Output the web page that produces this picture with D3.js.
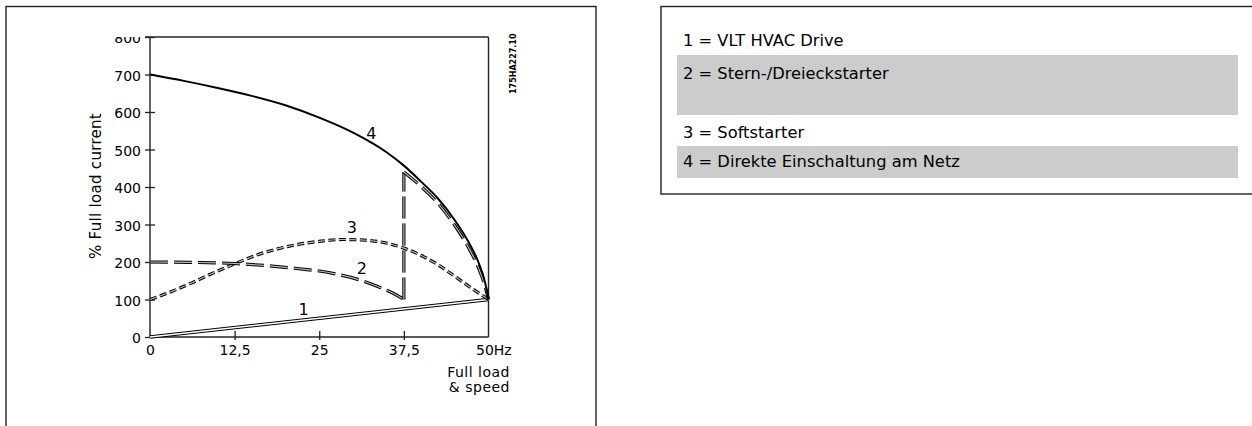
<!DOCTYPE html>
<html>
<head>
<meta charset="utf-8">
<script src="https://cdn.jsdelivr.net/npm/d3@7/dist/d3.min.js"></script>
<style>
  html, body { margin: 0; padding: 0; background: #fff; }
  svg { display: block; }
  text { font-family: "DejaVu Sans", sans-serif; fill: #000; }
</style>
</head>
<body>
<script>
// ---------- data ----------
const xTicks = [0, 12.5, 25, 37.5, 50];
const xTickLabels = ["0", "12,5", "25", "37,5", "50Hz"];
const yTicks = [0, 100, 200, 300, 400, 500, 600, 700, 800];
const yTickLabels = ["0", "100", "200", "300", "400", "500", "600", "700", "800"];

// 1 = VLT HVAC Drive
const driveX = [0, 50];
const driveY = [0, 100];
// 2 = Stern-/Dreieckstarter (star phase, then delta phase after switch-over)
const starX = [0, 6, 12.5, 18, 22, 25, 28, 31, 34, 36, 37.5];
const starY = [200, 199, 196, 189, 182, 176, 166, 152, 132, 116, 100];
const deltaX = [37.5, 40, 42.5, 45, 47, 48.5, 49.5, 50];
const deltaY = [440, 402, 357, 298, 240, 185, 135, 100];
// 3 = Softstarter
const softX = [0, 3, 6, 9, 12.5, 16, 20, 25, 28.5, 32, 35, 37.5, 40, 42.5, 45, 47.5, 50];
const softY = [100, 120, 143, 168, 195, 220, 240, 255, 260, 258, 250, 237, 218, 193, 162, 130, 100];
// 4 = Direkte Einschaltung am Netz
const directX = [0, 5, 10, 15, 20, 25, 30, 35, 37.5, 40, 42.5, 45, 47, 48.5, 49.5, 50];
const directY = [700, 683, 664, 643, 618, 585, 545, 492, 457, 415, 370, 312, 255, 200, 145, 100];

const curveLabels = ["1", "2", "3", "4"];
const curveLabelX = [22.7, 31.3, 29.8, 32.7];
const curveLabelY = [74, 183, 294, 543];

const legendLabels = ["1 = VLT HVAC Drive", "2 = Stern-/Dreieckstarter", "3 = Softstarter", "4 = Direkte Einschaltung am Netz"];
const legendShaded = [false, true, false, true];

const yTitle = "%  Full  load  current";
const xTitle = ["Full load", "& speed"];
const drawingCode = "175HA227.10";

// ---------- layout ----------
const W = 1252, H = 426;
const svg = d3.select("body").append("svg").attr("width", W).attr("height", H);
svg.append("rect").attr("width", W).attr("height", H).attr("fill", "#fff");

// panel frames
svg.append("rect").attr("x", 6).attr("y", 6.5).attr("width", 590).attr("height", 440)
  .attr("fill", "none").attr("stroke", "#222").attr("stroke-width", 1.4);
svg.append("rect").attr("x", 661).attr("y", 6.5).attr("width", 620).attr("height", 187.5)
  .attr("fill", "none").attr("stroke", "#222").attr("stroke-width", 1.4);

const x = d3.scaleLinear().domain([0, 50]).range([150, 488.5]);
const y = d3.scaleLinear().domain([0, 800]).range([337, 37]);

const zip = (xs, ys) => xs.map((v, i) => [v, ys[i]]);

// clip for the axis labels (the "800" is cut by the frame top)
svg.append("defs").append("clipPath").attr("id", "yclip")
  .attr("clipPathUnits", "userSpaceOnUse")
  .append("rect").attr("x", -200).attr("y", 37).attr("width", 400).attr("height", 400);

// y axis ticks (crossing the axis)
const yAxis = svg.append("g").attr("transform", "translate(155,0)")
  .attr("clip-path", "url(#yclip)")
  .call(d3.axisLeft(y).tickValues(yTicks).tickFormat((d, i) => yTickLabels[i])
    .tickSizeInner(10).tickSizeOuter(0).tickPadding(4));
yAxis.select(".domain").remove();
yAxis.selectAll(".tick line").attr("stroke", "#222").attr("stroke-width", 1.3);
yAxis.selectAll(".tick text").attr("font-size", 14).attr("dy", "0.42em")
  .style("font-family", "DejaVu Sans, sans-serif");

// x axis ticks
const xAxis = svg.append("g").attr("transform", "translate(0,331)")
  .call(d3.axisBottom(x).tickValues(xTicks).tickFormat((d, i) => xTickLabels[i])
    .tickSizeInner(9).tickSizeOuter(0).tickPadding(5));
xAxis.select(".domain").remove();
xAxis.selectAll(".tick line").attr("stroke", "#222").attr("stroke-width", 1.3)
  .filter(d => d === 0 || d === 50).remove();
xAxis.selectAll(".tick text").attr("font-size", 14)
  .style("font-family", "DejaVu Sans, sans-serif");
xAxis.selectAll(".tick text").filter(d => d === 50)
  .attr("text-anchor", "start").attr("x", -13);

// plot frame / axes
const frame = svg.append("g").attr("stroke", "#222").attr("stroke-width", 1.4).attr("fill", "none");
frame.append("line").attr("x1", 145).attr("x2", x(50)).attr("y1", y(800)).attr("y2", y(800));
frame.append("line").attr("x1", x(50)).attr("x2", x(50)).attr("y1", y(800)).attr("y2", y(0));
frame.append("line").attr("x1", x(0)).attr("x2", x(0)).attr("y1", y(800)).attr("y2", y(0));
frame.append("line").attr("x1", x(0)).attr("x2", x(50)).attr("y1", y(0)).attr("y2", y(0));

// titles
svg.append("text").attr("transform", "translate(101,186) rotate(-90)")
  .attr("text-anchor", "middle").attr("font-size", 15).attr("letter-spacing", 0.3).text(yTitle);
svg.append("text").attr("x", 510).attr("y", 377).attr("text-anchor", "end")
  .attr("font-size", 14).attr("letter-spacing", 0.5).text(xTitle[0]);
svg.append("text").attr("x", 510).attr("y", 392).attr("text-anchor", "end")
  .attr("font-size", 14).attr("letter-spacing", 0.5).text(xTitle[1]);
svg.append("text").attr("transform", "translate(516,94) rotate(-90)")
  .attr("font-size", 8).attr("font-weight", "bold").text(drawingCode);

// ---------- curves ----------
const line = d3.line().x(d => x(d[0])).y(d => y(d[1])).curve(d3.curveMonotoneX);
const straight = d3.line().x(d => x(d[0])).y(d => y(d[1]));

function hollow(pathD, dash, outer, inner, innerColor) {
  const g = svg.append("g").attr("fill", "none");
  g.append("path").attr("d", pathD).attr("stroke", "#000").attr("stroke-width", outer)
    .attr("stroke-dasharray", dash);
  g.append("path").attr("d", pathD).attr("stroke", innerColor).attr("stroke-width", inner)
    .attr("stroke-dasharray", dash);
}

// 1: double line
hollow(straight(zip(driveX, driveY)), null, 3.4, 1.3, "#fff");

// 3: soft starter, short hollow dashes
hollow(line(zip(softX, softY)), "7,3.5", 3.2, 1.2, "#bbb");

// 2: star-delta, long hollow dashes
const starPts = zip(starX, starY);
const deltaPts = zip(deltaX, deltaY);
hollow(line(starPts), "18,6", 3.2, 1.2, "#bbb");
hollow(straight([starPts[starPts.length - 1], deltaPts[0]]), "22,5", 3.2, 1.2, "#bbb");
hollow(line(deltaPts), "18,6", 3.2, 1.2, "#bbb");

// 4: direct on line, solid
svg.append("path").attr("d", line(zip(directX, directY)))
  .attr("fill", "none").attr("stroke", "#000").attr("stroke-width", 2);

// curve numbers
svg.append("g").selectAll("text").data(curveLabels).join("text")
  .attr("x", (d, i) => x(curveLabelX[i])).attr("y", (d, i) => y(curveLabelY[i]))
  .attr("dy", "0.36em").attr("text-anchor", "middle").attr("font-size", 16).text(d => d);

// ---------- legend ----------
const rowTop = [22, 55, 115, 146];
const rowH = [33, 60, 31, 32];
const rowBase = [46, 79, 138, 167];
const lg = svg.append("g");
lg.selectAll("rect").data(legendLabels).join("rect")
  .attr("x", 677).attr("width", 561)
  .attr("y", (d, i) => rowTop[i]).attr("height", (d, i) => rowH[i])
  .attr("fill", (d, i) => legendShaded[i] ? "#cccccc" : "none");
lg.selectAll("text").data(legendLabels).join("text")
  .attr("x", 683).attr("y", (d, i) => rowBase[i])
  .attr("font-size", 16.3).text(d => d);
</script>
</body>
</html>
